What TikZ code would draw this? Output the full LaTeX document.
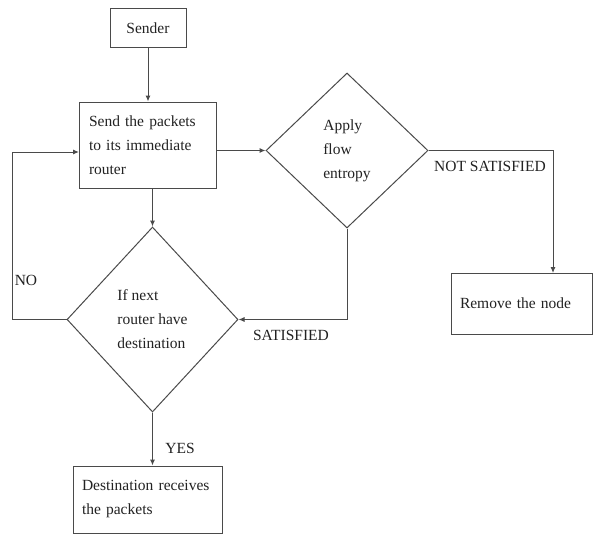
\documentclass[tikz,border=0pt]{standalone}
\usepackage{fontspec}
\setmainfont{Liberation Serif}
\usetikzlibrary{shapes.geometric,arrows.meta}
\definecolor{linec}{HTML}{4A4A4A}
\definecolor{textc}{HTML}{222222}
\begin{document}
\begin{tikzpicture}[x=1pt,y=-1pt,
  every node/.style={text=textc,font=\fontsize{15.5}{24}\selectfont},
  boxnode/.style={draw=linec,line width=1pt,rectangle,inner sep=0pt,align=left},
  decnode/.style={draw=linec,line width=1pt,diamond,inner sep=0pt,align=left},
  conn/.style={draw=linec,line width=1pt,-{Latex[length=6pt,width=5pt]}},
  lbl/.style={inner sep=0pt}]
\useasboundingbox (0,0) rectangle (593,535);
\fill[white] (0,0) rectangle (593,535);
% nodes
\node[boxnode,minimum width=76pt,minimum height=39pt] (sender) at (148,28.5) {Sender};
\node[boxnode,minimum width=137pt,minimum height=86pt,text width=117pt] (send) at (147.5,145) {Send the packets\\to its immediate\\router};
\node[decnode,minimum width=162pt,minimum height=155pt] (apply) at (347,150.5) {Apply\\flow\\entropy};
\node[decnode,minimum width=171pt,minimum height=185pt] (if) at (152.5,319.5) {If next\\router have\\destination};
\node[boxnode,minimum width=141pt,minimum height=61pt,text width=123pt] (remove) at (521.5,303.5) {Remove the node};
\node[boxnode,minimum width=149pt,minimum height=67pt,text width=131pt] (dest) at (147.5,499.5) {Destination receives\\the packets};
% labels
\node[lbl] (lnot) at (490,166) {NOT SATISFIED};
\node[lbl] (lsat) at (291,335) {SATISFIED};
\node[lbl] (lno) at (26,280) {NO};
\node[lbl] (lyes) at (180,448) {YES};
% connector helpers
\coordinate (noturn) at (12,319.5);
\coordinate (sendin) at (79,152);
\coordinate (remin) at (553,273);
% connectors
\draw[conn] (sender.south) -- (sender.south |- send.north);
\draw[conn] (send.south -| if.north) -- (if.north);
\draw[conn] (send.east |- apply.west) -- (apply.west);
\draw[conn] (if.west) -- (noturn) |- (sendin);
\draw[conn] (apply.south) |- (if.east);
\draw[conn] (apply.east) -| (remin);
\draw[conn] (if.south) -- (if.south |- dest.north);
\end{tikzpicture}
\end{document}
